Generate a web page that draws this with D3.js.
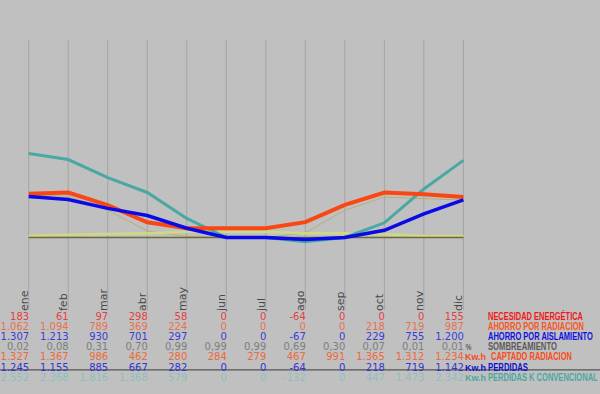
<!DOCTYPE html>
<html><head><meta charset="utf-8">
<script src="https://cdn.jsdelivr.net/npm/d3@7"></script>
<style>
html,body{margin:0;padding:0;background:#c0c0c0;}
svg{display:block;}
</style></head>
<body>
<svg id="c" width="600" height="394"></svg>
<script>
const months = ["ene","feb","mar","abr","may","jun","jul","ago","sep","oct","nov","dic"];
const necesidad = [183,61,97,298,58,0,0,-64,0,0,0,155];
const ahorroRadiacion = [1062,1094,789,369,224,0,0,0,0,218,719,987];
const ahorroAislamiento = [1307,1213,930,701,297,0,0,-67,0,229,755,1200];
const sombreamiento = [0.02,0.08,0.31,0.70,0.99,0.99,0.99,0.69,0.30,0.07,0.01,0.01];
const captado = [1327,1367,986,462,280,284,279,467,991,1365,1312,1234];
const perdidas = [1245,1155,885,667,282,0,0,-64,0,218,719,1142];
const perdidasK = [2552,2368,1816,1368,579,0,0,-132,0,447,1473,2342];
// unlabelled helper lines
const captadoNeto = [1300,1260,830,200,30,0,0,140,830,1230,1180,1140];
const sombraLine = [55,85,105,125,175,175,175,130,125,95,45,45];

const rowLabels = ["NECESIDAD ENERGÉTICA","AHORRO POR RADIACION","AHORRO POR AISLAMIENTO","SOMBREAMIENTO","CAPTADO RADIACION","PERDIDAS","PERDIDAS K CONVENCIONAL"];
const rowUnits = ["","","","%","Kw.h","Kw.h","Kw.h"];

const loc = d3.formatLocale({decimal:",",thousands:".",grouping:[3],currency:["",""],minus:"-"});
const fInt = loc.format(",d");
const fDec = loc.format(".2f");

const svg = d3.select("#c");
const x = d3.scalePoint().domain(months).range([28.7, 463.4]);
const y = d3.scaleLinear().domain([0, 6000]).range([237.5, 40]);

// vertical grid
svg.append("g").selectAll("line").data(months).join("line")
  .attr("x1", d => x(d)).attr("x2", d => x(d))
  .attr("y1", 40).attr("y2", 310)
  .attr("stroke", "#a4a4a4").attr("stroke-width", 1);

// month labels (rotated)
svg.append("g").selectAll("text").data(months).join("text")
  .attr("transform", d => `translate(${x(d)-1},311) rotate(-90)`)
  .attr("font-family", "DejaVu Sans").attr("font-size", 11)
  .attr("fill", "#4a4a4a").text(d => d);

const line = d3.line().x((d,i) => x(months[i])).y(d => y(d));

svg.append("path").datum(captadoNeto).attr("d", line)
  .attr("fill","none").attr("stroke","#b8ae78").attr("stroke-width",1);
svg.append("path").datum(sombraLine).attr("d", line)
  .attr("fill","none").attr("stroke","#cfd882").attr("stroke-width",2.6);
svg.append("path").datum(months.map(() => 0)).attr("d", line)
  .attr("fill","none").attr("stroke","#6a6a3c").attr("stroke-width",1.3);
svg.append("path").datum(perdidasK).attr("d", line)
  .attr("fill","none").attr("stroke","#4aa8a2").attr("stroke-width",3);
svg.append("path").datum(captado).attr("d", line)
  .attr("fill","none").attr("stroke","#fa4614").attr("stroke-width",4);
svg.append("path").datum(perdidas).attr("d", line)
  .attr("fill","none").attr("stroke","#0a0ae6").attr("stroke-width",3.5);

// table
const rows = [
  {vals: necesidad, fmt: fInt, col: "#e44040", lab: "#f01818"},
  {vals: ahorroRadiacion, fmt: fInt, col: "#ec7050", lab: "#fa5522"},
  {vals: ahorroAislamiento, fmt: fInt, col: "#3c3cd4", lab: "#1010e0"},
  {vals: sombreamiento, fmt: fDec, col: "#7e7e7e", lab: "#5a5a5a"},
  {vals: captado, fmt: fInt, col: "#ec6a3c", lab: "#fa4a1a"},
  {vals: perdidas, fmt: fInt, col: "#3434d0", lab: "#1010d0"},
  {vals: perdidasK, fmt: fInt, col: "#8cc0bc", lab: "#4aa8a2"}
];
const rowY = i => 320 + i * 10.1;

// separator rule
svg.append("line").attr("x1",0).attr("x2",600).attr("y1",369.8).attr("y2",369.8)
  .attr("stroke","#555").attr("stroke-width",1.3);

function squeezed(g, txt, x0, y0, width, fill, size) {
  const t = g.append("text").attr("x", 0).attr("y", 0)
    .attr("font-family","Liberation Sans").attr("font-size",size).attr("font-weight","bold")
    .attr("fill", fill).text(txt);
  const w = t.node().getComputedTextLength();
  t.attr("transform", `translate(${x0},${y0}) scale(${width / w},1)`);
}

const widths = [95, 96, 105, 69, 81, 40, 110];
rows.forEach((r, ri) => {
  const g = svg.append("g");
  g.selectAll("text").data(r.vals).join("text")
    .attr("x", (d,i) => x(months[i]) + 0.5).attr("y", rowY(ri))
    .attr("text-anchor","end")
    .attr("font-family","DejaVu Sans").attr("font-size",10)
    .attr("fill", r.col).text(d => r.fmt(d));
  if (rowUnits[ri] === "%") {
    squeezed(g, "%", 465.5, rowY(ri) - 0.8, 6, "#606060", 9);
  } else if (rowUnits[ri]) {
    squeezed(g, "Kw.h", 465, rowY(ri), 21, r.lab, 9.5);
  }
  const lx = ri === 4 ? 491 : 488;
  squeezed(g, rowLabels[ri], lx, rowY(ri), widths[ri], r.lab, 10.5);
});
</script>
</body></html>
